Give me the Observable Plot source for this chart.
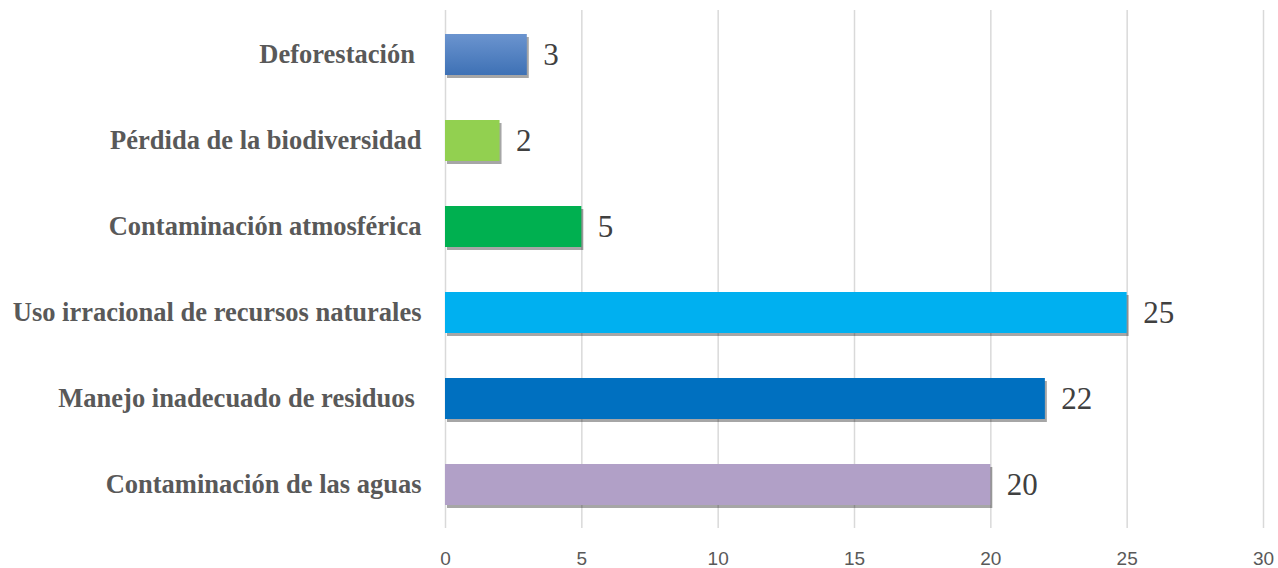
<!DOCTYPE html>
<html>
<head>
<meta charset="utf-8">
<script src="https://cdn.jsdelivr.net/npm/d3@7"></script>
<script src="https://cdn.jsdelivr.net/npm/@observablehq/plot@0.6"></script>
<style>
  html, body { margin: 0; padding: 0; background: #fff; }
  #chart svg text { white-space: pre; }
</style>
</head>
<body>
<div id="chart"></div>
<script>
const categories = [
  "Deforestación ",
  "Pérdida de la biodiversidad",
  "Contaminación atmosférica",
  "Uso irracional de recursos naturales",
  "Manejo inadecuado de residuos ",
  "Contaminación de las aguas"
];
const values = [3, 2, 5, 25, 22, 20];
const colors = ["url(#defGrad)", "#92d050", "#00b050", "#00b0f0", "#0070c0", "#b1a0c7"];
const xTicks = [0, 5, 10, 15, 20, 25, 30];

const data = categories.map((c, i) => ({cat: c, value: values[i], color: colors[i]}));

const gradientDefs = () => {
  const ns = "http://www.w3.org/2000/svg";
  const g = document.createElementNS(ns, "g");
  g.innerHTML = `<defs>
    <linearGradient id="defGrad" x1="0" y1="0" x2="0" y2="1">
      <stop offset="0" stop-color="#6b94cf"/>
      <stop offset="1" stop-color="#3e71b5"/>
    </linearGradient>
    <filter id="shadowBlur" x="-10%" y="-30%" width="120%" height="160%">
      <feGaussianBlur stdDeviation="1.5"/>
    </filter>
  </defs>`;
  return g;
};

const chart = Plot.plot({
  width: 1278,
  height: 568,
  marginLeft: 445,
  marginRight: 15,
  marginTop: 10,
  marginBottom: 40,
  x: {domain: [0, 30]},
  y: {domain: categories, paddingInner: 0.525, paddingOuter: 0.2625},
  color: {type: "identity"},
  marks: [
    gradientDefs,
    Plot.ruleX(xTicks, {stroke: "#d9d9d9", strokeWidth: 1.5}),
    Plot.barX(data, {x: "value", y: "cat", fill: "#000", fillOpacity: 0.35, dx: 2, dy: 3, style: {filter: "url(#shadowBlur)"}}),
    Plot.barX(data, {x: "value", y: "cat", fill: "color"}),
    Plot.text(data, {x: "value", y: "cat", text: d => String(d.value), textAnchor: "start", dx: 16,
      fontFamily: "Liberation Serif", fontSize: 31, fill: "#404040"}),
    Plot.axisY({tickSize: 0, tickPadding: 24, fontFamily: "Liberation Serif", fontWeight: "bold",
      fontSize: 26.5, fill: "#595959", label: null}),
    Plot.axisX({ticks: xTicks, tickSize: 0, tickPadding: 23, fontFamily: "Liberation Sans",
      fontSize: 19, fill: "#595959", label: null})
  ]
});
document.getElementById("chart").appendChild(chart);
</script>
</body>
</html>
